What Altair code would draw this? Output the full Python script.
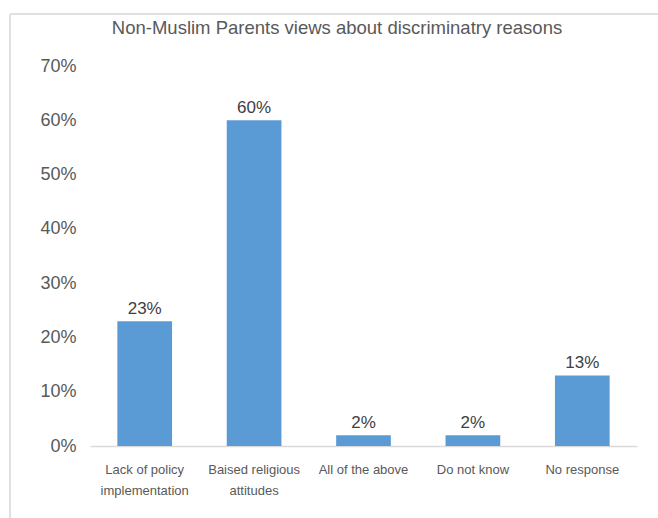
import altair as alt
import pandas as pd

categories = [
    "Lack of policy\nimplementation",
    "Baised religious\nattitudes",
    "All of the above",
    "Do not know",
    "No response",
]
values = [0.23, 0.60, 0.02, 0.02, 0.13]
title_text = "Non-Muslim Parents views about discriminatry reasons"

df = pd.DataFrame({"category": categories, "value": values})

x_enc = alt.X(
    "category:N",
    sort=categories,
    scale=alt.Scale(paddingInner=0.5, paddingOuter=0.25),
    axis=alt.Axis(
        title=None,
        labelAngle=0,
        ticks=False,
        domainColor="#d9d9d9",
        domainWidth=1.5,
        labelExpr="split(datum.label, '\\n')",
        labelFont="Liberation Sans",
        labelFontSize=13,
        labelColor="#595959",
        labelLineHeight=21,
        labelPadding=17,
        labelBaseline="top",
    ),
)
y_enc = alt.Y(
    "value:Q",
    scale=alt.Scale(domain=[0, 0.7]),
    axis=alt.Axis(
        title=None,
        format=".0%",
        values=[0, 0.1, 0.2, 0.3, 0.4, 0.5, 0.6, 0.7],
        grid=False,
        domain=False,
        ticks=False,
        labelFont="Liberation Sans",
        labelFontSize=18,
        labelColor="#595959",
        labelPadding=14,
    ),
)

bars = alt.Chart(df).mark_bar(color="#5B9BD5").encode(x=x_enc, y=y_enc)

labels = alt.Chart(df).mark_text(
    baseline="bottom", dy=-3, font="Liberation Sans", fontSize=17, color="#404040"
).encode(
    x=alt.X("category:N", sort=categories),
    y="value:Q",
    text=alt.Text("value:Q", format=".0%"),
)

frame = alt.Data(values=[{"k": 1}])
top_line = alt.Chart(frame).mark_rule(color="#e0e0e0", strokeWidth=2).encode(
    x=alt.value(-80), x2=alt.value(568), y=alt.value(-52)
)
left_line = alt.Chart(frame).mark_rule(color="#e0e0e0", strokeWidth=2).encode(
    x=alt.value(-80), y=alt.value(-52), y2=alt.value(452)
)
title = alt.Chart(alt.Data(values=[{"t": title_text}])).mark_text(
    font="Liberation Sans", fontSize=18.5, color="#595959", baseline="middle", align="center"
).encode(x=alt.value(247), y=alt.value(-38), text="t:N")

chart = (
    alt.layer(bars, labels, top_line, left_line, title)
    .properties(
        width=547,
        height=380,
        autosize=alt.AutoSizeParams(type="none"),
        padding={"left": 90, "top": 66, "right": 21, "bottom": 72},
    )
    .configure_view(stroke=None)
)

chart.save("out.html", embed_options={"renderer": "svg", "actions": False})
